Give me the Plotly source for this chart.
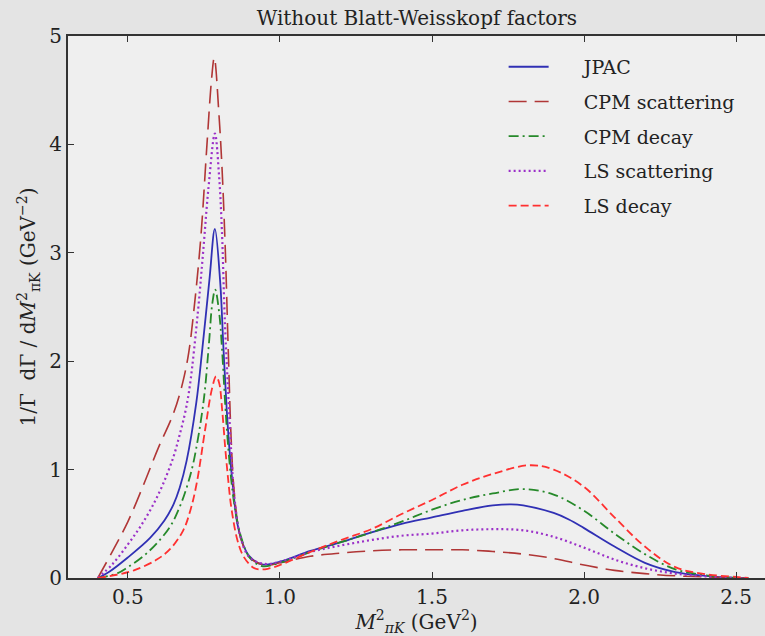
import plotly.graph_objects as go

# ---- data ----
jpac_x = [0.401, 0.44, 0.50, 0.573, 0.62, 0.65, 0.67, 0.693, 0.725, 0.745, 0.768, 0.786,
          0.803, 0.814, 0.825, 0.835, 0.845, 0.86, 0.88, 0.90, 0.94, 1.0, 1.1, 1.2, 1.3, 1.4,
          1.5, 1.6, 1.7, 1.76, 1.8, 1.9, 1.95, 2.0, 2.1, 2.2, 2.3, 2.4, 2.5, 2.54]
jpac_y = [0.0, 0.06, 0.19, 0.37, 0.53, 0.68, 0.83, 1.08, 1.62, 2.12, 2.75, 3.22,
          2.75, 2.13, 1.55, 1.15, 0.85, 0.50, 0.30, 0.20, 0.125, 0.15, 0.25, 0.33, 0.42, 0.50,
          0.56, 0.62, 0.67, 0.68, 0.67, 0.60, 0.54, 0.46, 0.29, 0.14, 0.055, 0.02, 0.0, 0.0]

cpms_x = [0.401, 0.45, 0.50, 0.55, 0.60, 0.65, 0.68, 0.70, 0.72, 0.74, 0.76, 0.775, 0.784,
          0.80, 0.81, 0.82, 0.83, 0.84, 0.85, 0.87, 0.90, 0.95, 1.0, 1.1, 1.2, 1.3, 1.4,
          1.5, 1.6, 1.7, 1.8, 1.9, 2.0, 2.1, 2.2, 2.3, 2.4, 2.5, 2.54]
cpms_y = [0.0, 0.25, 0.52, 0.85, 1.20, 1.52, 1.80, 2.08, 2.55, 3.15, 4.0, 4.6, 4.80,
          4.25, 3.75, 3.05, 2.1, 1.25, 0.78, 0.38, 0.19, 0.12, 0.14, 0.20, 0.23, 0.25, 0.26,
          0.26, 0.26, 0.245, 0.22, 0.18, 0.12, 0.07, 0.04, 0.02, 0.01, 0.0, 0.0]

cpmd_x = [0.401, 0.463, 0.50, 0.55, 0.595, 0.64, 0.671, 0.695, 0.715, 0.748, 0.767, 0.777, 0.787,
          0.80, 0.809, 0.82, 0.83, 0.84, 0.85, 0.87, 0.90, 0.94, 1.0, 1.1, 1.2, 1.3, 1.4,
          1.5, 1.6, 1.7, 1.8, 1.9, 2.0, 2.1, 2.2, 2.3, 2.4, 2.5, 2.54]
cpmd_y = [0.0, 0.04, 0.10, 0.20, 0.32, 0.48, 0.66, 0.85, 1.06, 1.61, 2.18, 2.52, 2.66,
          2.45, 2.13, 1.60, 1.20, 0.90, 0.68, 0.40, 0.19, 0.11, 0.14, 0.24, 0.33, 0.42, 0.52,
          0.63, 0.72, 0.78, 0.82, 0.77, 0.62, 0.41, 0.22, 0.08, 0.025, 0.0, 0.0]

lss_x = [0.401, 0.45, 0.50, 0.54, 0.58, 0.616, 0.65, 0.671, 0.69, 0.704, 0.73, 0.748, 0.765, 0.786,
         0.80, 0.809, 0.819, 0.83, 0.84, 0.85, 0.87, 0.90, 0.95, 1.0, 1.1, 1.2, 1.3, 1.4,
         1.5, 1.6, 1.7, 1.8, 1.9, 2.0, 2.1, 2.2, 2.3, 2.4, 2.5, 2.54]
lss_y = [0.0, 0.13, 0.31, 0.47, 0.66, 0.87, 1.12, 1.33, 1.55, 1.78, 2.45, 3.03, 3.60, 4.10,
         3.70, 3.21, 2.35, 1.70, 1.15, 0.75, 0.38, 0.19, 0.13, 0.15, 0.24, 0.30, 0.35, 0.39,
         0.41, 0.44, 0.45, 0.44, 0.38, 0.28, 0.17, 0.09, 0.04, 0.015, 0.0, 0.0]

lsd_x = [0.401, 0.463, 0.52, 0.595, 0.64, 0.682, 0.705, 0.726, 0.754, 0.776, 0.79,
         0.80, 0.81, 0.82, 0.83, 0.84, 0.86, 0.88, 0.91, 0.93, 0.96, 1.0, 1.1, 1.2, 1.3, 1.4,
         1.5, 1.6, 1.7, 1.82, 1.9, 2.0, 2.1, 2.2, 2.3, 2.4, 2.5, 2.54]
lsd_y = [0.0, 0.03, 0.07, 0.17, 0.27, 0.44, 0.62, 0.87, 1.37, 1.74, 1.86,
         1.80, 1.55, 1.20, 0.90, 0.65, 0.35, 0.20, 0.10, 0.08, 0.085, 0.12, 0.24, 0.35, 0.45, 0.59,
         0.72, 0.86, 0.96, 1.04, 1.00, 0.84, 0.56, 0.29, 0.10, 0.035, 0.01, 0.0]

x_ticks = [0.5, 1.0, 1.5, 2.0, 2.5]
y_ticks = [0, 1, 2, 3, 4, 5]

FONT = "DejaVu Serif"
TXT = "#222222"
PAD = "\u00a0\u00a0\u00a0\u00a0\u00a0"

series = [
    ("JPAC", jpac_x, jpac_y, "#3030b4", "solid", 1.8),
    ("CPM scattering", cpms_x, cpms_y, "#b03636", "18px,8px", 1.6),
    ("CPM decay", cpmd_x, cpmd_y, "#26892a", "10px,4px,2px,4px", 1.8),
    ("LS scattering", lss_x, lss_y, "#9b30c8", "2px,3px", 2.2),
    ("LS decay", lsd_x, lsd_y, "#ff3030", "8px,4px", 1.8),
]

fig = go.Figure()
for i, (name, xs, ys, col, dash, w) in enumerate(series):
    fig.add_trace(go.Scatter(
        x=xs, y=ys, name=PAD + name, mode="lines", legendgroup=f"g{i}",
        line=dict(color=col, dash=dash, width=w, shape="spline", smoothing=1.0),
    ))

fig.update_layout(
    width=765, height=636,
    margin=dict(l=68, r=0, t=36, b=58),
    paper_bgcolor="#e4e4e4",
    plot_bgcolor="#efefef",
    font=dict(family=FONT, size=20, color=TXT),
    title=dict(text="Without Blatt-Weisskopf factors", x=0.545, xanchor="center",
               y=0.971, yanchor="middle", font=dict(family=FONT, size=20, color=TXT)),
    showlegend=True,
    legend=dict(x=0.625, y=0.978, xanchor="left", yanchor="top",
                bgcolor="rgba(0,0,0,0)", borderwidth=0,
                font=dict(family=FONT, size=19, color=TXT),
                tracegroupgap=7, itemwidth=40),
)

fig.update_xaxes(
    range=[0.303, 2.595], tickvals=x_ticks, ticktext=[f"{v:.1f}" for v in x_ticks],
    ticks="inside", ticklen=6, tickwidth=1.2, tickcolor="#333333",
    showline=True, linecolor="#333333", linewidth=1.8, mirror="ticks",
    showgrid=False, zeroline=False,
    title=dict(text="<i>M</i><sup>2</sup><sub><i>πK</i></sub> (GeV<sup>2</sup>)",
               font=dict(family=FONT, size=20), standoff=4),
    tickfont=dict(family=FONT, size=20),
)
fig.update_yaxes(
    range=[0, 5], tickvals=y_ticks, ticktext=[str(v) for v in y_ticks],
    ticks="inside", ticklen=6, tickwidth=1.2, tickcolor="#333333",
    showline=True, linecolor="#333333", linewidth=1.8,
    showgrid=False, zeroline=False,
    title=dict(text="1/Γ  dΓ / d<i>M</i><sup>2</sup><sub>πK</sub> (GeV<sup>−2</sup>)",
               font=dict(family=FONT, size=20), standoff=8),
    tickfont=dict(family=FONT, size=20),
)

fig.write_html("out.html")
